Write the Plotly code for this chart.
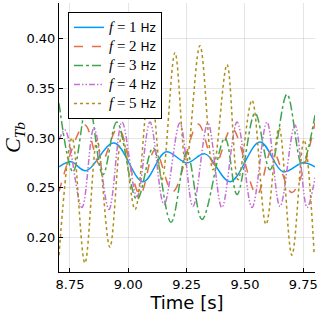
import plotly.graph_objects as go

# ---- data (time [s], C_Tb) ----
t1 = [8.703, 8.754, 8.819, 8.939, 9.063, 9.161, 9.251, 9.329, 9.436, 9.564, 9.663, 9.749, 9.800]
c1 = [0.271, 0.276, 0.267, 0.295, 0.256, 0.286, 0.275, 0.284, 0.256, 0.296, 0.266, 0.275, 0.271]

t2 = [8.703, 8.814, 8.879, 8.956, 9.050, 9.114, 9.191, 9.299, 9.371, 9.444, 9.551, 9.616, 9.701, 9.800]
c2 = [0.246, 0.313, 0.273, 0.310, 0.243, 0.288, 0.246, 0.314, 0.273, 0.310, 0.243, 0.288, 0.245, 0.315]

t3 = [8.703, 8.763, 8.827, 8.891, 8.951, 9.037, 9.106, 9.183, 9.251, 9.316, 9.414, 9.466, 9.543, 9.607, 9.680, 9.744, 9.800]
c3 = [0.335, 0.266, 0.339, 0.263, 0.316, 0.238, 0.290, 0.215, 0.286, 0.218, 0.300, 0.243, 0.325, 0.268, 0.344, 0.273, 0.323]

t4 = [8.703, 8.729, 8.801, 8.853, 8.917, 8.973, 9.037, 9.093, 9.153, 9.221, 9.277, 9.341, 9.401, 9.466, 9.530, 9.594, 9.650, 9.714, 9.766, 9.800]
c4 = [0.298, 0.308, 0.230, 0.310, 0.228, 0.316, 0.241, 0.316, 0.233, 0.315, 0.231, 0.315, 0.230, 0.316, 0.230, 0.316, 0.231, 0.313, 0.230, 0.260]

t5 = [8.703, 8.759, 8.814, 8.866, 8.921, 8.973, 9.029, 9.093, 9.144, 9.200, 9.247, 9.307, 9.363, 9.423, 9.470, 9.530, 9.590, 9.646, 9.701, 9.753, 9.796]
c5 = [0.182, 0.300, 0.174, 0.298, 0.190, 0.303, 0.228, 0.357, 0.258, 0.386, 0.273, 0.393, 0.268, 0.374, 0.258, 0.338, 0.213, 0.310, 0.182, 0.298, 0.185]

freqs = ["1", "2", "3", "4", "5"]
x_ticks = [8.75, 9.00, 9.25, 9.50, 9.75]
x_tick_text = ["8.75", "9.00", "9.25", "9.50", "9.75"]
y_ticks = [0.20, 0.25, 0.30, 0.35, 0.40]
y_tick_text = ["0.20", "0.25", "0.30", "0.35", "0.40"]

colors = ["#009AFA", "#E36F47", "#3EA44E", "#C371D2", "#AC8E18"]
dashes = ["solid", "dash", "dashdot", "6px,2px,1.5px,2px,1.5px,2px", "dot"]
series = [(t1, c1), (t2, c2), (t3, c3), (t4, c4), (t5, c5)]

SERIF = "Liberation Serif"

fig = go.Figure()
for (t, c), f, col, d in zip(series, freqs, colors, dashes):
    name = (f'<span style="font-family:{SERIF};font-size:15px"><i>f</i> = {f}</span> Hz')
    fig.add_trace(go.Scatter(
        x=t, y=c, mode="lines", name=name,
        line=dict(color=col, width=1.5, dash=d, shape="spline", smoothing=1.0),
    ))

axis_common = dict(
    showline=True, linecolor="black", linewidth=1, mirror=False,
    ticks="inside", ticklen=4, tickcolor="black", tickwidth=1,
    showgrid=True, gridcolor="rgba(0,0,0,0.1)", gridwidth=1,
    zeroline=False,
    tickfont=dict(family="DejaVu Sans", size=13, color="black"),
)

fig.update_layout(
    width=320, height=314,
    margin=dict(l=59, r=5, t=3, b=42),
    paper_bgcolor="white", plot_bgcolor="white",
    showlegend=True,
    legend=dict(
        x=0.035, y=0.967, xanchor="left", yanchor="top",
        bgcolor="white", bordercolor="black", borderwidth=1,
        font=dict(family="DejaVu Sans", size=12, color="black"),
        tracegroupgap=0, itemwidth=30,
    ),
    xaxis=dict(
        range=[8.703, 9.80], tickvals=x_ticks, ticktext=x_tick_text,
        title=dict(text="Time [s]", font=dict(family="DejaVu Sans", size=18, color="black"), standoff=2),
        **axis_common,
    ),
    yaxis=dict(
        range=[0.165, 0.436], tickvals=y_ticks, ticktext=y_tick_text,
        title=dict(text=f'<span style="font-family:{SERIF}"><i>C</i><sub><i>Tb</i></sub></span>',
                   font=dict(family=SERIF, size=22, color="black"), standoff=8),
        **axis_common,
    ),
)

fig.write_html("out.html", config={"displayModeBar": False},
               post_script="document.body.style.margin='0px';")
